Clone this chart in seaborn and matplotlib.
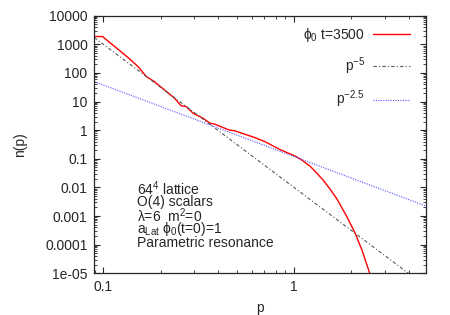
import numpy as np
import pandas as pd
import matplotlib
matplotlib.use("Agg")
import matplotlib.pyplot as plt
import seaborn as sns
from matplotlib.ticker import LogLocator, FuncFormatter, NullFormatter

# spectrum phi_0 at t=3500
p_data = [0.0897, 0.099, 0.134, 0.152, 0.168, 0.185, 0.209, 0.236, 0.256,
          0.272, 0.295, 0.333, 0.361, 0.384, 0.456, 0.489, 0.623, 0.703,
          0.844, 1.012, 1.1, 1.214, 1.32, 1.426, 1.55, 1.677, 1.893, 2.094,
          2.27, 2.43, 2.51]
n_data = [1870, 1870, 357, 167, 75, 50, 25.7, 13.2, 7.1,
          6.7, 3.95, 2.63, 1.78, 1.62, 1.02, 0.95, 0.55, 0.40,
          0.21, 0.125, 0.09, 0.055, 0.031, 0.0175, 0.0085, 0.004, 9.5e-4, 2.5e-4,
          6.5e-5, 1.7e-5, 8.7e-6]

# power law guides
p_guide = [0.0897, 5.0]
coef_5 = 0.01
coef_25 = 0.12

ytick_vals = [1e4, 1e3, 1e2, 10, 1, 0.1, 0.01, 1e-3, 1e-4, 1e-5]
ytick_labels = ["10000", "1000", "100", "10", "1", "0.1", "0.01", "0.001", "0.0001", "1e-05"]
note_lines = ["64$^4$ lattice", "O(4) scalars", "λ=6  m$^2$=0",
              "a$_{\\mathrm{Lat}}$ ϕ$_0$(t=0)=1", "Parametric resonance"]

sns.set_style("ticks")
plt.rcParams["font.family"] = ["Liberation Sans", "DejaVu Sans"]
plt.rcParams["mathtext.fontset"] = "custom"
plt.rcParams["mathtext.rm"] = "Liberation Sans"
plt.rcParams["mathtext.it"] = "Liberation Sans"
plt.rcParams["font.size"] = 10

fig = plt.figure(figsize=(4.5, 3.15), dpi=100)
ax = fig.add_axes([0.2096, 0.1324, 0.737, 0.8178])

df = pd.DataFrame({"p": p_data, "n": n_data})
sns.lineplot(data=df, x="p", y="n", ax=ax, color="#ff0000", lw=1.0,
             label="ϕ$_0$ t=3500")
pg = np.array(p_guide)
ax.plot(pg, coef_5 * pg ** -5, color="#555555", lw=0.8, ls=(0, (3, 2, 1, 2)),
        label="p$^{-5}$")
ax.plot(pg, coef_25 * pg ** -2.5, color="#5050ff", lw=0.8, ls=(0, (1, 1.2)),
        label="p$^{-2.5}$")

ax.set_xscale("log")
ax.set_yscale("log")
ax.set_xlim(0.0897, 4.92)
ax.set_ylim(1e-5, 1e4)
ax.set_yticks(ytick_vals)
ax.set_yticklabels(ytick_labels)
ax.xaxis.set_major_formatter(FuncFormatter(lambda v, _: "%g" % v))
ax.yaxis.set_minor_locator(LogLocator(base=10, subs=np.arange(2, 10), numticks=20))
ax.yaxis.set_minor_formatter(NullFormatter())
ax.tick_params(which="both", direction="in", top=True, right=True, labelsize=10)
ax.tick_params(which="major", length=4, pad=5)
ax.tick_params(which="minor", length=2)
for s in ax.spines.values():
    s.set_linewidth(0.9)

ax.set_xlabel("p", fontsize=10, labelpad=5)
ax.set_ylabel("n(p)", fontsize=10, labelpad=13)

ax.legend(loc="upper right", frameon=False, markerfirst=False, fontsize=10,
          handlelength=2.66, handletextpad=0.58, labelspacing=0.85,
          borderaxespad=0, bbox_to_anchor=(0.969, 0.983))

for i, t in enumerate(note_lines):
    ax.text(0.129, 0.327 - i * 0.052, t, transform=ax.transAxes, fontsize=10,
            va="center", ha="left")

fig.savefig("out.png", dpi=100)
